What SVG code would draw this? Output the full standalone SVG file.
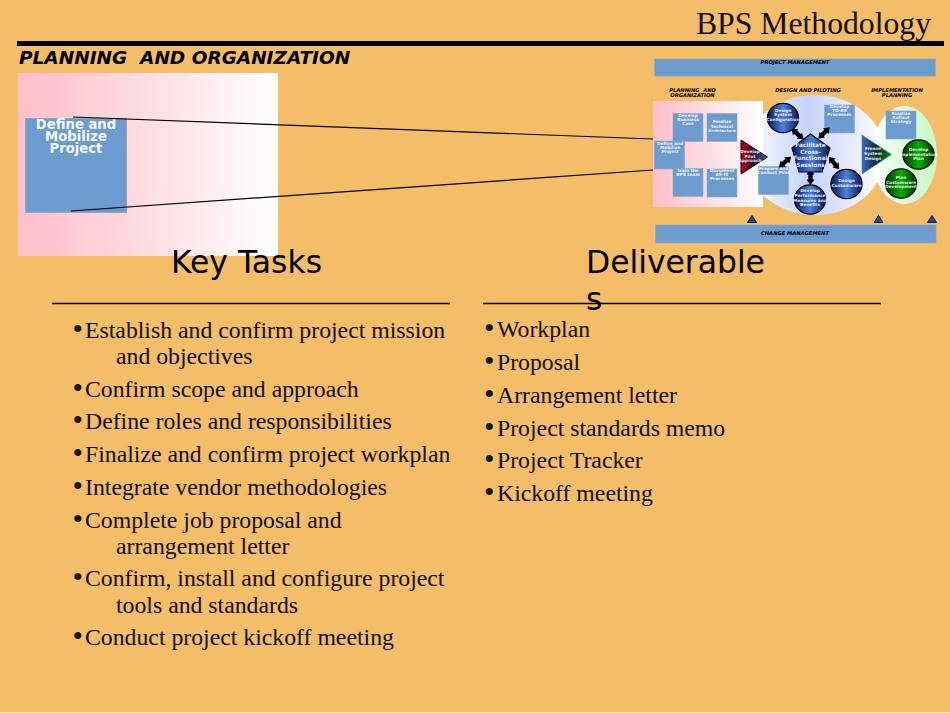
<svg xmlns="http://www.w3.org/2000/svg" width="950" height="713" viewBox="0 0 950 713">
<style>
.s{font-family:"DejaVu Sans",sans-serif}
.b{font-family:"Liberation Serif",serif;font-size:23.75px;fill:#111}
.d{font-family:"Liberation Serif",serif;font-size:30px;fill:#111}
.h{font-family:"DejaVu Sans",sans-serif;font-size:31.400px;fill:#000}
.box{fill:#6c9bcd;stroke:#8aa9c9;stroke-width:.6}
.t{font-family:"DejaVu Sans",sans-serif;font-weight:700;fill:#fff;fill-opacity:.9;text-anchor:middle;font-size:4.300px}
.i{font-family:"DejaVu Sans",sans-serif;font-weight:700;font-style:italic;fill:#000;text-anchor:middle;font-size:5.200px}
.blue{fill:url(#cb);stroke:#000;stroke-width:1.200}
.green{fill:url(#cg);stroke:#000;stroke-width:1.200}
</style>
<defs>
<linearGradient id="pl" x1="0" x2="1" y1="0" y2="0"><stop offset="0" stop-color="#ffc0cb"/><stop offset=".12" stop-color="#ffc4ce"/><stop offset="1" stop-color="#fff"/></linearGradient>
<linearGradient id="bl" x1="0" x2="1" y1="0" y2="0"><stop offset="0" stop-color="#fff"/><stop offset=".45" stop-color="#c5d2fb"/><stop offset="1" stop-color="#fff"/></linearGradient>
<linearGradient id="gr" x1="0" x2="1" y1="0" y2="0"><stop offset="0" stop-color="#fff"/><stop offset=".5" stop-color="#d8fcd8"/><stop offset="1" stop-color="#c8fac8"/></linearGradient>
<linearGradient id="cb" x1="0" x2="1" y1="0" y2="0"><stop offset="0" stop-color="#0a1a50"/><stop offset=".5" stop-color="#4a80e0"/><stop offset="1" stop-color="#0a1a50"/></linearGradient>
<linearGradient id="cg" x1="0" x2="1" y1="0" y2="0"><stop offset="0" stop-color="#003300"/><stop offset=".5" stop-color="#00b000"/><stop offset="1" stop-color="#003300"/></linearGradient>
<linearGradient id="tp" x1="0" x2="1" y1="0" y2="0"><stop offset="0" stop-color="#c00020"/><stop offset=".45" stop-color="#301030"/><stop offset="1" stop-color="#3060b0"/></linearGradient>
<linearGradient id="tf" x1="0" x2="1" y1="0" y2="0"><stop offset="0" stop-color="#3a6cc0"/><stop offset=".5" stop-color="#0c2a30"/><stop offset="1" stop-color="#009000"/></linearGradient>
<polygon id="dbl" points="-8,0 -2.500,-4 -2.500,-2.200 2.500,-2.200 2.500,-4 8,0 2.500,4 2.500,2.200 -2.500,2.200 -2.500,4"/>
</defs>
<rect width="950" height="713" fill="#f4bd68"/>
<rect y="712" width="950" height="1" fill="#fde7c0"/>
<text x="931" y="34" text-anchor="end" font-family="'Liberation Serif',serif" font-size="31.700" fill="#111">BPS Methodology</text>
<rect x="17" y="41" width="927" height="5"/>
<text x="19" y="64" class="s" font-size="18.500" font-weight="700" font-style="italic" xml:space="preserve">PLANNING  AND ORGANIZATION</text>

<g id="enlarged">
<rect x="18" y="73" width="260" height="183" fill="url(#pl)"/>
<g id="define-large">
<rect x="25.500" y="118.500" width="101" height="94" fill="#6c9bcd" stroke="#8aa9c9"/>
<text class="s" font-size="13.200" font-weight="700" fill="#f4f7fb" text-anchor="middle"><tspan x="76" y="128.500">Define and</tspan><tspan x="76" y="141">Mobilize</tspan><tspan x="76" y="153">Project</tspan></text>
</g>
</g>

<g id="overview">
<g id="bars">
<rect class="box" x="654.500" y="59" width="281" height="17"/>
<text class="i" x="795" y="64">PROJECT MANAGEMENT</text>
<rect class="box" x="655.500" y="225" width="280.500" height="18"/>
<text class="i" x="795" y="234.500">CHANGE MANAGEMENT</text>
<text class="i" xml:space="preserve"><tspan x="692.500" y="92">PLANNING  AND</tspan><tspan x="692.500" y="97">ORGANIZATION</tspan></text>
<text class="i" x="808" y="92">DESIGN AND PILOTING</text>
<text class="i"><tspan x="897" y="92">IMPLEMENTATION</tspan><tspan x="897" y="97">PLANNING</tspan></text>
</g>
<ellipse cx="815" cy="155" rx="70" ry="60" fill="url(#bl)"/>
<ellipse cx="904.500" cy="155" rx="32.500" ry="49" fill="url(#gr)"/>
<rect x="653" y="101" width="110" height="106" fill="url(#pl)"/>
<g id="n-business"><rect class="box" x="673" y="113.500" width="30" height="28"/><text class="t"><tspan x="688" y="116.500">Develop</tspan><tspan x="688" y="120.500">Business</tspan><tspan x="688" y="124.500">Case</tspan></text></g>
<g id="n-arch"><rect class="box" x="707" y="113.500" width="30" height="28"/><text class="t"><tspan x="722" y="123">Finalize</tspan><tspan x="722" y="127.500">Technical</tspan><tspan x="722" y="132" style="font-size:3.900px">Architecture</tspan></text></g>
<g id="n-train"><rect class="box" x="673" y="168.500" width="30" height="28"/><text class="t"><tspan x="688" y="171.500">Train the</tspan><tspan x="688" y="175.500">BPS team</tspan></text></g>
<g id="n-asis"><rect class="box" x="707" y="169" width="30" height="28"/><text class="t"><tspan x="722" y="172">Document</tspan><tspan x="722" y="176">AS-IS</tspan><tspan x="722" y="180">Processes</tspan></text></g>
<g id="n-define"><rect class="box" x="654.500" y="141" width="30" height="28"/><text class="t"><tspan x="670" y="144.500">Define and</tspan><tspan x="670" y="148.500">Mobilize</tspan><tspan x="670" y="152.500">Project</tspan></text></g>
<g id="n-prepare"><rect class="box" x="758.500" y="166.500" width="30" height="28"/><text class="t"><tspan x="773.500" y="169.500">Prepare and</tspan><tspan x="773.500" y="173.500">Conduct Pilot</tspan></text></g>
<g id="n-tobe"><rect class="box" x="824.500" y="105" width="30" height="28"/><text class="t"><tspan x="839.500" y="108">Develop</tspan><tspan x="839.500" y="112">TO-BE</tspan><tspan x="839.500" y="116">Processes</tspan></text></g>
<g id="n-rollout"><rect class="box" x="886" y="111" width="30" height="28"/><text class="t"><tspan x="901" y="114.500">Finalize</tspan><tspan x="901" y="118.500">Rollout</tspan><tspan x="901" y="122.500">Strategy</tspan></text></g>

<g id="n-pilot"><polygon points="741,140 767.500,157 741,174" fill="url(#tp)" stroke="#000"/><text class="t"><tspan x="750" y="153">Develop</tspan><tspan x="750" y="157.500">Pilot</tspan><tspan x="750" y="162">Approach</tspan></text></g>
<g id="n-freeze"><polygon points="862,135 891.500,154.500 862,174" fill="url(#tf)" stroke="#4a78c0" stroke-width=".6"/><text class="t"><tspan x="873" y="150">Freeze</tspan><tspan x="873" y="155">System</tspan><tspan x="873" y="159.500">Design</tspan></text></g>

<g id="connectors-overview" fill="#000">
<use href="#dbl" transform="translate(797.500,134) rotate(42)"/>
<use href="#dbl" transform="translate(824,133) rotate(-45)"/>
<use href="#dbl" transform="translate(785,162) rotate(-40)"/>
<use href="#dbl" transform="translate(834,163) rotate(50)"/>
<use href="#dbl" transform="translate(810.500,177) rotate(90)"/>
</g>

<g id="n-sessions"><polygon points="810.500,134 830,148 822,172 799,172 792,148" fill="url(#cb)" stroke="#000" stroke-width="1.200"/><text class="t" style="font-size:5.800px"><tspan x="810.500" y="147">Facilitate</tspan><tspan x="810.500" y="153.500">Cross-</tspan><tspan x="810.500" y="160">Functional</tspan><tspan x="810.500" y="166.500">Sessions</tspan></text></g>
<g id="n-config"><ellipse class="blue" cx="783" cy="118" rx="15.600" ry="14.700"/><text class="t"><tspan x="783" y="112">Design</tspan><tspan x="783" y="116">System</tspan><tspan x="783" y="121">Configuration</tspan></text></g>
<g id="n-custom"><ellipse class="blue" cx="846.500" cy="184" rx="15.600" ry="14.700"/><text class="t"><tspan x="846.500" y="182">Design</tspan><tspan x="846.500" y="186.500">Customware</tspan></text></g>
<g id="n-measures"><ellipse class="blue" cx="810" cy="199.500" rx="15.600" ry="14.700"/><text class="t"><tspan x="810" y="192">Develop</tspan><tspan x="810" y="197">Performance</tspan><tspan x="810" y="201.500">Measures and</tspan><tspan x="810" y="206">Benefits</tspan></text></g>
<g id="n-impl"><ellipse class="green" cx="918.500" cy="154.500" rx="15.600" ry="14.700"/><text class="t"><tspan x="918.500" y="151">Develop</tspan><tspan x="918.500" y="155.500">Implementation</tspan><tspan x="918.500" y="160">Plan</tspan></text></g>
<g id="n-plan"><ellipse class="green" cx="901" cy="183.500" rx="15.600" ry="14.700"/><text class="t"><tspan x="901" y="179">Plan</tspan><tspan x="901" y="183.500">Customware</tspan><tspan x="901" y="188">Development</tspan></text></g>
<g id="markers" fill="#1a4bc0" stroke="#000" stroke-width=".8">
<polygon points="752,215.500 756.500,222.500 747.500,222.500"/>
<polygon points="878.500,215.500 883,222.500 874,222.500"/>
<polygon points="932,215.500 936.500,222.500 927.500,222.500"/>
</g>
</g>

<g id="connectors" stroke="#000" stroke-width="1.200" fill="none">
<line x1="73" y1="117" x2="653" y2="139"/>
<line x1="71" y1="211" x2="653" y2="170"/>
</g>

<g id="key-tasks">
<text class="h" x="171" y="273">Key Tasks</text>
<line x1="52" y1="303.500" x2="450" y2="303.500" stroke="#000" stroke-width="1.300"/>
<text x="72.500" y="339"><tspan class="d">•</tspan><tspan class="b" x="85" dy="-1">Establish and confirm project mission</tspan></text>
<text class="b" x="116" y="364">and objectives</text>
<text x="72.500" y="398"><tspan class="d">•</tspan><tspan class="b" x="85" dy="-1">Confirm scope and approach</tspan></text>
<text x="72.500" y="430"><tspan class="d">•</tspan><tspan class="b" x="85" dy="-1">Define roles and responsibilities</tspan></text>
<text x="72.500" y="463"><tspan class="d">•</tspan><tspan class="b" x="85" dy="-1">Finalize and confirm project workplan</tspan></text>
<text x="72.500" y="496"><tspan class="d">•</tspan><tspan class="b" x="85" dy="-1">Integrate vendor methodologies</tspan></text>
<text x="72.500" y="529"><tspan class="d">•</tspan><tspan class="b" x="85" dy="-1">Complete job proposal and</tspan></text>
<text class="b" x="116" y="554">arrangement letter</text>
<text x="72.500" y="587"><tspan class="d">•</tspan><tspan class="b" x="85" dy="-1">Confirm, install and configure project</tspan></text>
<text class="b" x="116" y="613">tools and standards</text>
<text x="72.500" y="646"><tspan class="d">•</tspan><tspan class="b" x="85" dy="-1">Conduct project kickoff meeting</tspan></text>
</g>
<g id="deliverables">
<text class="h"><tspan x="586" y="273">Deliverable</tspan><tspan x="586" y="310">s</tspan></text>
<line x1="483" y1="303.500" x2="881" y2="303.500" stroke="#000" stroke-width="1.300"/>
<text x="484" y="338"><tspan class="d">•</tspan><tspan class="b" x="497" dy="-1">Workplan</tspan></text>
<text x="484" y="371"><tspan class="d">•</tspan><tspan class="b" x="497" dy="-1">Proposal</tspan></text>
<text x="484" y="403.500"><tspan class="d">•</tspan><tspan class="b" x="497" dy="-1">Arrangement letter</tspan></text>
<text x="484" y="436.500"><tspan class="d">•</tspan><tspan class="b" x="497" dy="-1">Project standards memo</tspan></text>
<text x="484" y="469"><tspan class="d">•</tspan><tspan class="b" x="497" dy="-1">Project Tracker</tspan></text>
<text x="484" y="501.500"><tspan class="d">•</tspan><tspan class="b" x="497" dy="-1">Kickoff meeting</tspan></text>
</g>
</svg>
